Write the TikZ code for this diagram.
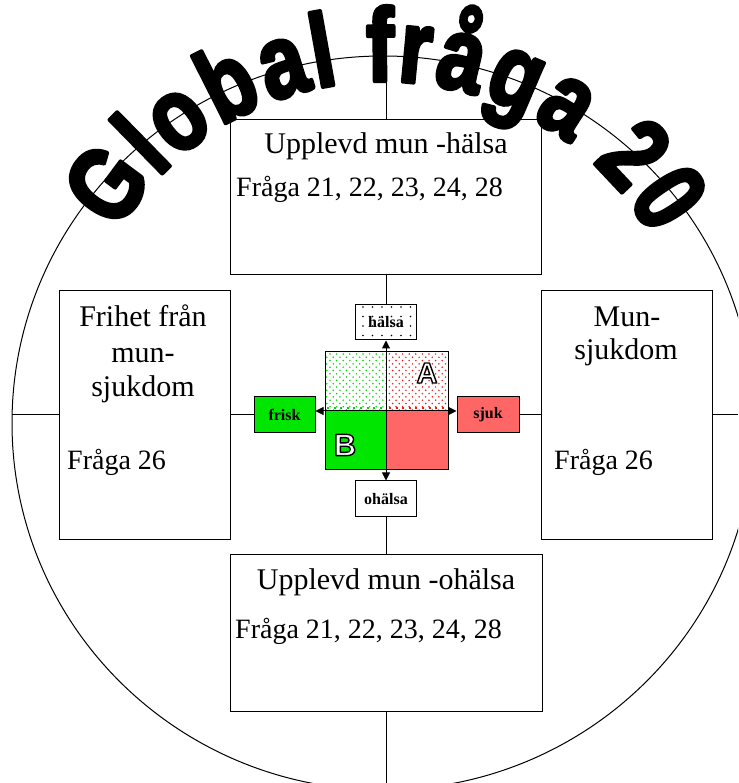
\documentclass[tikz,border=0pt]{standalone}
\usepackage{fontspec}
\setmainfont{Liberation Serif}
\newfontfamily\titlefont{Liberation Sans}
\usetikzlibrary{patterns.meta,arrows.meta,calc}
\definecolor{mygreen}{RGB}{0,230,0}
\definecolor{myred}{RGB}{255,102,102}
\definecolor{dotgreen}{RGB}{0,215,0}
\definecolor{dotred}{RGB}{250,20,20}
\newcommand{\heavytext}[2]{\special{pdf:literal direct 2 Tr #1 w 1 j 0 G}#2\special{pdf:literal direct 0 Tr}}
\newcommand{\outlinetext}[1]{{\color{white}\special{pdf:literal direct 2 Tr 1.4 w 1 j 0 G}#1\special{pdf:literal direct 0 Tr}}}
\tikzset{
  box/.style={draw, line width=1pt, rectangle, inner sep=0pt},
  txt/.style={inner sep=0pt, font=\fontsize{30}{30}\selectfont},
  qtxt/.style={inner sep=0pt, anchor=base west, font=\fontsize{28}{28}\selectfont},
  lbl/.style={box, minimum width=61pt, minimum height=36pt, font=\fontsize{16}{16}\selectfont\bfseries},
  conn/.style={line width=1pt},
  dbl/.style={line width=1pt, {Triangle[length=8pt,width=8pt]}-{Triangle[length=8pt,width=8pt]}}
}
\begin{document}
\begin{tikzpicture}[x=1pt,y=1pt]
\useasboundingbox (0,0) rectangle (738,783);
\fill[white] (0,0) rectangle (738,783);
\begin{scope}
\clip (0,0) rectangle (738,783);
\draw[conn] (383,360) ellipse [x radius=371, y radius=367];
\end{scope}
\coordinate (etop) at (386,727);
\coordinate (eleft) at (12,368);
\coordinate (eright) at (738,368);
\coordinate (ebot) at (386,0);

% boxes
\node[box, minimum width=311pt, minimum height=155pt] (tbox) at (386,585.5) {};
\node[box, minimum width=171pt, minimum height=249pt] (lbox) at (144.5,368) {};
\node[box, minimum width=171pt, minimum height=249pt] (rbox) at (626.5,368) {};
\node[box, minimum width=312pt, minimum height=157pt] (bbox) at (386,149.5) {};

% box texts
\node[txt, anchor=base] (t1) at (386,629) {Upplevd mun -hälsa};
\node[qtxt] (t2) at (236,586) {Fråga 21, 22, 23, 24, 28};
\node[txt, anchor=base] (l1) at (143,456) {Frihet från};
\node[txt, anchor=base] (l2) at (143,420) {mun-};
\node[txt, anchor=base] (l3) at (143,386) {sjukdom};
\node[qtxt] (l4) at (67,313) {Fråga 26};
\node[txt, anchor=base] (r1) at (627,456) {Mun-};
\node[txt, anchor=base] (r2) at (626,423) {sjukdom};
\node[qtxt] (r3) at (554,313) {Fråga 26};
\node[txt, anchor=base] (b1) at (386,193) {Upplevd mun -ohälsa};
\node[qtxt] (b2) at (235,144) {Fråga 21, 22, 23, 24, 28};

% centre quadrants
\fill[white] (325,372) rectangle (448,431);
\fill[pattern={Dots[distance=6.6pt,radius=0.85pt]}, pattern color=dotgreen] (325,372) rectangle (386,431);
\fill[pattern={Dots[distance=6.6pt,radius=0.85pt,xshift=3.3pt,yshift=3.3pt]}, pattern color=dotgreen] (325,372) rectangle (386,431);
\fill[pattern={Dots[distance=6.6pt,radius=0.85pt]}, pattern color=dotred] (386,372) rectangle (448,431);
\fill[pattern={Dots[distance=6.6pt,radius=0.85pt,xshift=3.3pt,yshift=3.3pt]}, pattern color=dotred] (386,372) rectangle (448,431);
\draw[dotgreen, line width=2pt, dash pattern=on 2pt off 4.6pt] (327,375) -- (385,375);
\draw[dotred, line width=2pt, dash pattern=on 2pt off 4.6pt] (389,375) -- (447,375);
\fill[mygreen] (325,313) rectangle (386,372);
\fill[myred] (386,313) rectangle (448,372);
\draw[conn] (325,313) rectangle (448,431);
\draw[conn] (386,313) -- (386,431);

\node[inner sep=0pt, font=\titlefont\bfseries\fontsize{29}{29}\selectfont] (A) at (427,410) {\outlinetext{A}};
\node[inner sep=0pt, font=\titlefont\bfseries\fontsize{31}{31}\selectfont] (B) at (345,338) {\outlinetext{B}};

% small label boxes
\node[lbl, minimum height=35pt, fill=white, postaction={pattern={Dots[distance=9.5pt,radius=0.9pt,xshift=2pt,yshift=1pt]}, pattern color=black}] (halsa) at (386,460.5) {hälsa};
\node[lbl, fill=mygreen] (frisk) at (284.5,368) {frisk};
\node[lbl, fill=myred, minimum width=62pt] (sjuk) at (488,368) {sjuk};
\node[lbl, fill=white] (ohalsa) at (386,284) {ohälsa};

% connectors
\draw[conn] (etop) -- (tbox.north);
\draw[conn] (tbox.south) -- (halsa.north);
\draw[conn] (ohalsa.south) -- (bbox.north);
\draw[conn] (bbox.south) -- (ebot);
\draw[conn] (eleft) -- (lbox.west);
\draw[conn] (lbox.east) -- (frisk.west);
\draw[conn] (sjuk.east) -- (rbox.west);
\draw[conn] (rbox.east) -- (eright);
\draw[dbl] (halsa.south) -- (ohalsa.north);
\coordinate (mid) at (386,372);
\draw[dbl] (frisk.east |- mid) -- (sjuk.west |- mid);

% title along arc
\coordinate (TC) at (383,392);
\foreach \ch/\cc [count=\n] in {G/0.389, l/0.917, o/1.3615, b/1.9725, a/2.556, l/2.973, f/3.5565, r/3.9175, å/4.39, g/4.9735, a/5.557, 2/6.391, 0/6.947} {
  \pgfmathsetmacro\ang{149.7-16.65*\cc}
  \node[anchor=base, inner sep=0pt, rotate=\ang-90, font=\titlefont\bfseries\fontsize{90}{90}\selectfont] (title\n) at ($(TC)+(\ang:310)$) {\scalebox{0.92}[1.15]{\heavytext{3.6}{\ch}}};
}
\end{tikzpicture}
\end{document}
